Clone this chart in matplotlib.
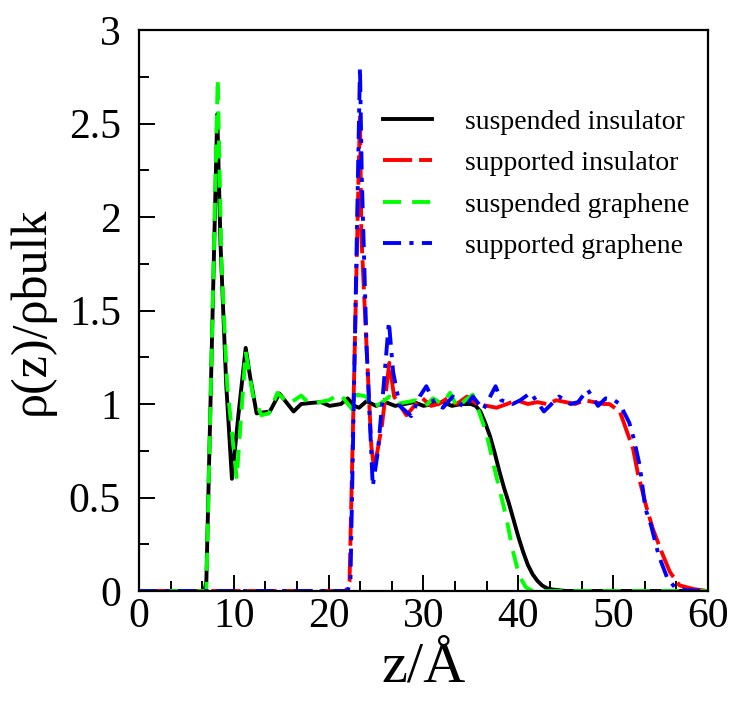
import matplotlib
matplotlib.use("Agg")
import matplotlib.pyplot as plt
from matplotlib.ticker import MultipleLocator

plt.rcParams['font.family'] = ['Liberation Serif', 'DejaVu Serif']
plt.rcParams['lines.scale_dashes'] = False

# suspended insulator (black, solid)
z_si = [0, 6.9, 7.1, 8.25, 8.6, 9.2, 9.8, 10.5, 11.25, 11.7, 12.4, 13.8, 14.8, 16.3, 17.1,
        18.2, 19.2, 20.1, 21.3, 22.0, 22.7, 23.2, 24.0, 25, 26, 27, 28, 29, 30, 31, 32, 33,
        34, 35, 35.5, 36.0, 36.5, 37.0, 37.5, 38.0, 38.5, 39.0, 39.5, 40.0, 40.5, 41.0,
        41.5, 42.0, 42.5, 43.0, 43.6, 45, 60]
v_si = [0, 0, 0.05, 2.55, 1.85, 1.1, 0.6, 0.95, 1.3, 1.15, 0.95, 0.96, 1.056, 0.96, 1.0,
        1.006, 1.01, 0.99, 1.0, 1.03, 0.99, 0.98, 1.015, 0.99, 1.01, 0.99, 1.0, 1.01, 0.99,
        1.0, 1.01, 0.99, 1.0, 1.0, 0.99, 0.96, 0.9, 0.83, 0.74, 0.64, 0.55, 0.47, 0.38,
        0.29, 0.21, 0.14, 0.09, 0.055, 0.03, 0.015, 0.008, 0.0, 0]

# supported insulator (red, dashed)
z_pi = [0, 21.8, 22.2, 23.3, 23.45, 24.0, 24.5, 24.8, 25.6, 26.4, 26.9, 28.2, 29.2, 29.9,
        30.8, 31.6, 32.5, 33.5, 34.6, 35.6, 36.7, 37.7, 38.8, 39.8, 41, 42, 43, 44, 45, 46,
        47, 48, 49, 49.6, 50.7, 51.4, 52.1, 52.6, 53.5, 54.2, 55.1, 56.0, 57.0, 58.5, 60]
v_pi = [0, 0, 0.05, 2.55, 1.9, 1.3, 0.775, 0.65, 0.88, 1.22, 1.04, 0.94, 1.0, 1.03, 0.99,
        1.0, 1.03, 1.0, 1.04, 1.0, 0.99, 0.98, 1.0, 1.02, 1.0, 1.01, 1.0, 1.02, 1.01, 1.0,
        1.02, 1.01, 1.0, 1.0, 0.96, 0.86, 0.76, 0.63, 0.45, 0.33, 0.21, 0.1, 0.03, 0.01, 0]

# suspended graphene (green, dashed)
z_sg = [0, 6.9, 7.1, 8.3, 8.7, 9.3, 10.3, 11.25, 12.0, 12.9, 13.7, 14.6, 15.8, 17.1, 18.0,
        19.0, 20.0, 21.2, 22.5, 23.0, 24.0, 24.5, 25.4, 26.4, 27.1, 28.2, 29.2, 30.2, 31.0,
        32.0, 32.8, 33.6, 34.4, 35.2, 35.7, 36.6, 37.6, 38.7, 39.4, 40.1, 40.8, 41.5, 60]
v_sg = [0, 0, 0.0, 2.74, 1.75, 1.1, 0.6, 1.28, 1.05, 0.94, 0.95, 1.06, 1.0, 1.045, 1.0,
        1.01, 1.02, 1.054, 0.97, 1.05, 1.04, 0.98, 1.0, 1.04, 1.0, 1.01, 1.02, 0.99, 1.03,
        1.0, 1.06, 0.98, 1.02, 1.05, 0.98, 0.85, 0.63, 0.4, 0.22, 0.08, 0.02, 0.0, 0]

# supported graphene (blue, dash-dot)
z_pg = [0, 22.0, 22.3, 23.3, 23.5, 24.0, 24.65, 25.2, 25.8, 26.35, 26.8, 27.5, 28.7, 29.6,
        30.3, 31.2, 32.05, 33.1, 34.3, 35.2, 36.3, 37.6, 38.2, 39.4, 40.2, 41.3, 42.7, 44.3,
        45.5, 46.3, 47.3, 48.4, 49.2, 50.0, 50.7, 51.7, 52.2, 52.8, 53.4, 54.0, 54.8, 55.7,
        56.5, 57.5, 60]
v_pg = [0, 0, 0.06, 2.8, 2.2, 1.3, 0.56, 0.75, 1.1, 1.44, 1.17, 0.99, 0.935, 1.04, 1.095,
        1.0, 0.98, 1.04, 0.98, 1.04, 0.97, 1.095, 1.02, 1.0, 1.02, 1.06, 0.96, 1.04, 1.0,
        1.01, 1.077, 0.99, 1.03, 1.024, 1.0, 0.9, 0.81, 0.67, 0.44, 0.35, 0.19, 0.07, 0.02,
        0.005, 0]

labels = ["suspended insulator", "supported insulator", "suspended graphene", "supported graphene"]
x_ticks = [0, 10, 20, 30, 40, 50, 60]
y_ticks = [0, 0.5, 1, 1.5, 2, 2.5, 3]
y_ticklabels = ["0", "0.5", "1", "1.5", "2", "2.5", "3"]

fig = plt.figure(figsize=(7.34, 7.07), dpi=100)
ax = fig.add_axes([139/734, 1-591/707, (708-139)/734, (591-30)/707])

lw = 2.8
ax.plot(z_si, v_si, color='black', lw=lw, label=labels[0])
ax.plot(z_pi, v_pi, color='#ff0000', lw=lw, dashes=(21, 5), label=labels[1])
ax.plot(z_sg, v_sg, color='#00ff00', lw=lw, dashes=(13, 8), label=labels[2])
ax.plot(z_pg, v_pg, color='#0000ff', lw=lw, dashes=(13, 6, 3, 6), label=labels[3])

ax.set_xlim(0, 60)
ax.set_ylim(0, 3)
ax.set_xticks(x_ticks)
ax.set_yticks(y_ticks)
ax.set_yticklabels(y_ticklabels)
ax.xaxis.set_minor_locator(MultipleLocator(10/3))
ax.yaxis.set_minor_locator(MultipleLocator(0.25))
ax.tick_params(which='both', direction='in', top=False, right=False, width=1.4, labelsize=30)
ax.tick_params(which='major', length=11.5)
ax.tick_params(which='minor', length=7)
ax.tick_params(axis='y', which='major', pad=13)
ax.tick_params(axis='x', which='major', pad=5)
for s in ax.spines.values():
    s.set_linewidth(1.6)

ax.set_xlabel("z/Å", fontsize=42, labelpad=4)
ax.set_ylabel("ρ(z)/ρbulk", fontsize=36, labelpad=10)

leg = ax.legend(loc='upper left', bbox_to_anchor=(0.4288, 0.859), frameon=False, fontsize=20,
                handlelength=1.75, handletextpad=1.2, labelspacing=0.58,
                borderpad=0, borderaxespad=0)

fig.savefig("out.png", dpi=100)
